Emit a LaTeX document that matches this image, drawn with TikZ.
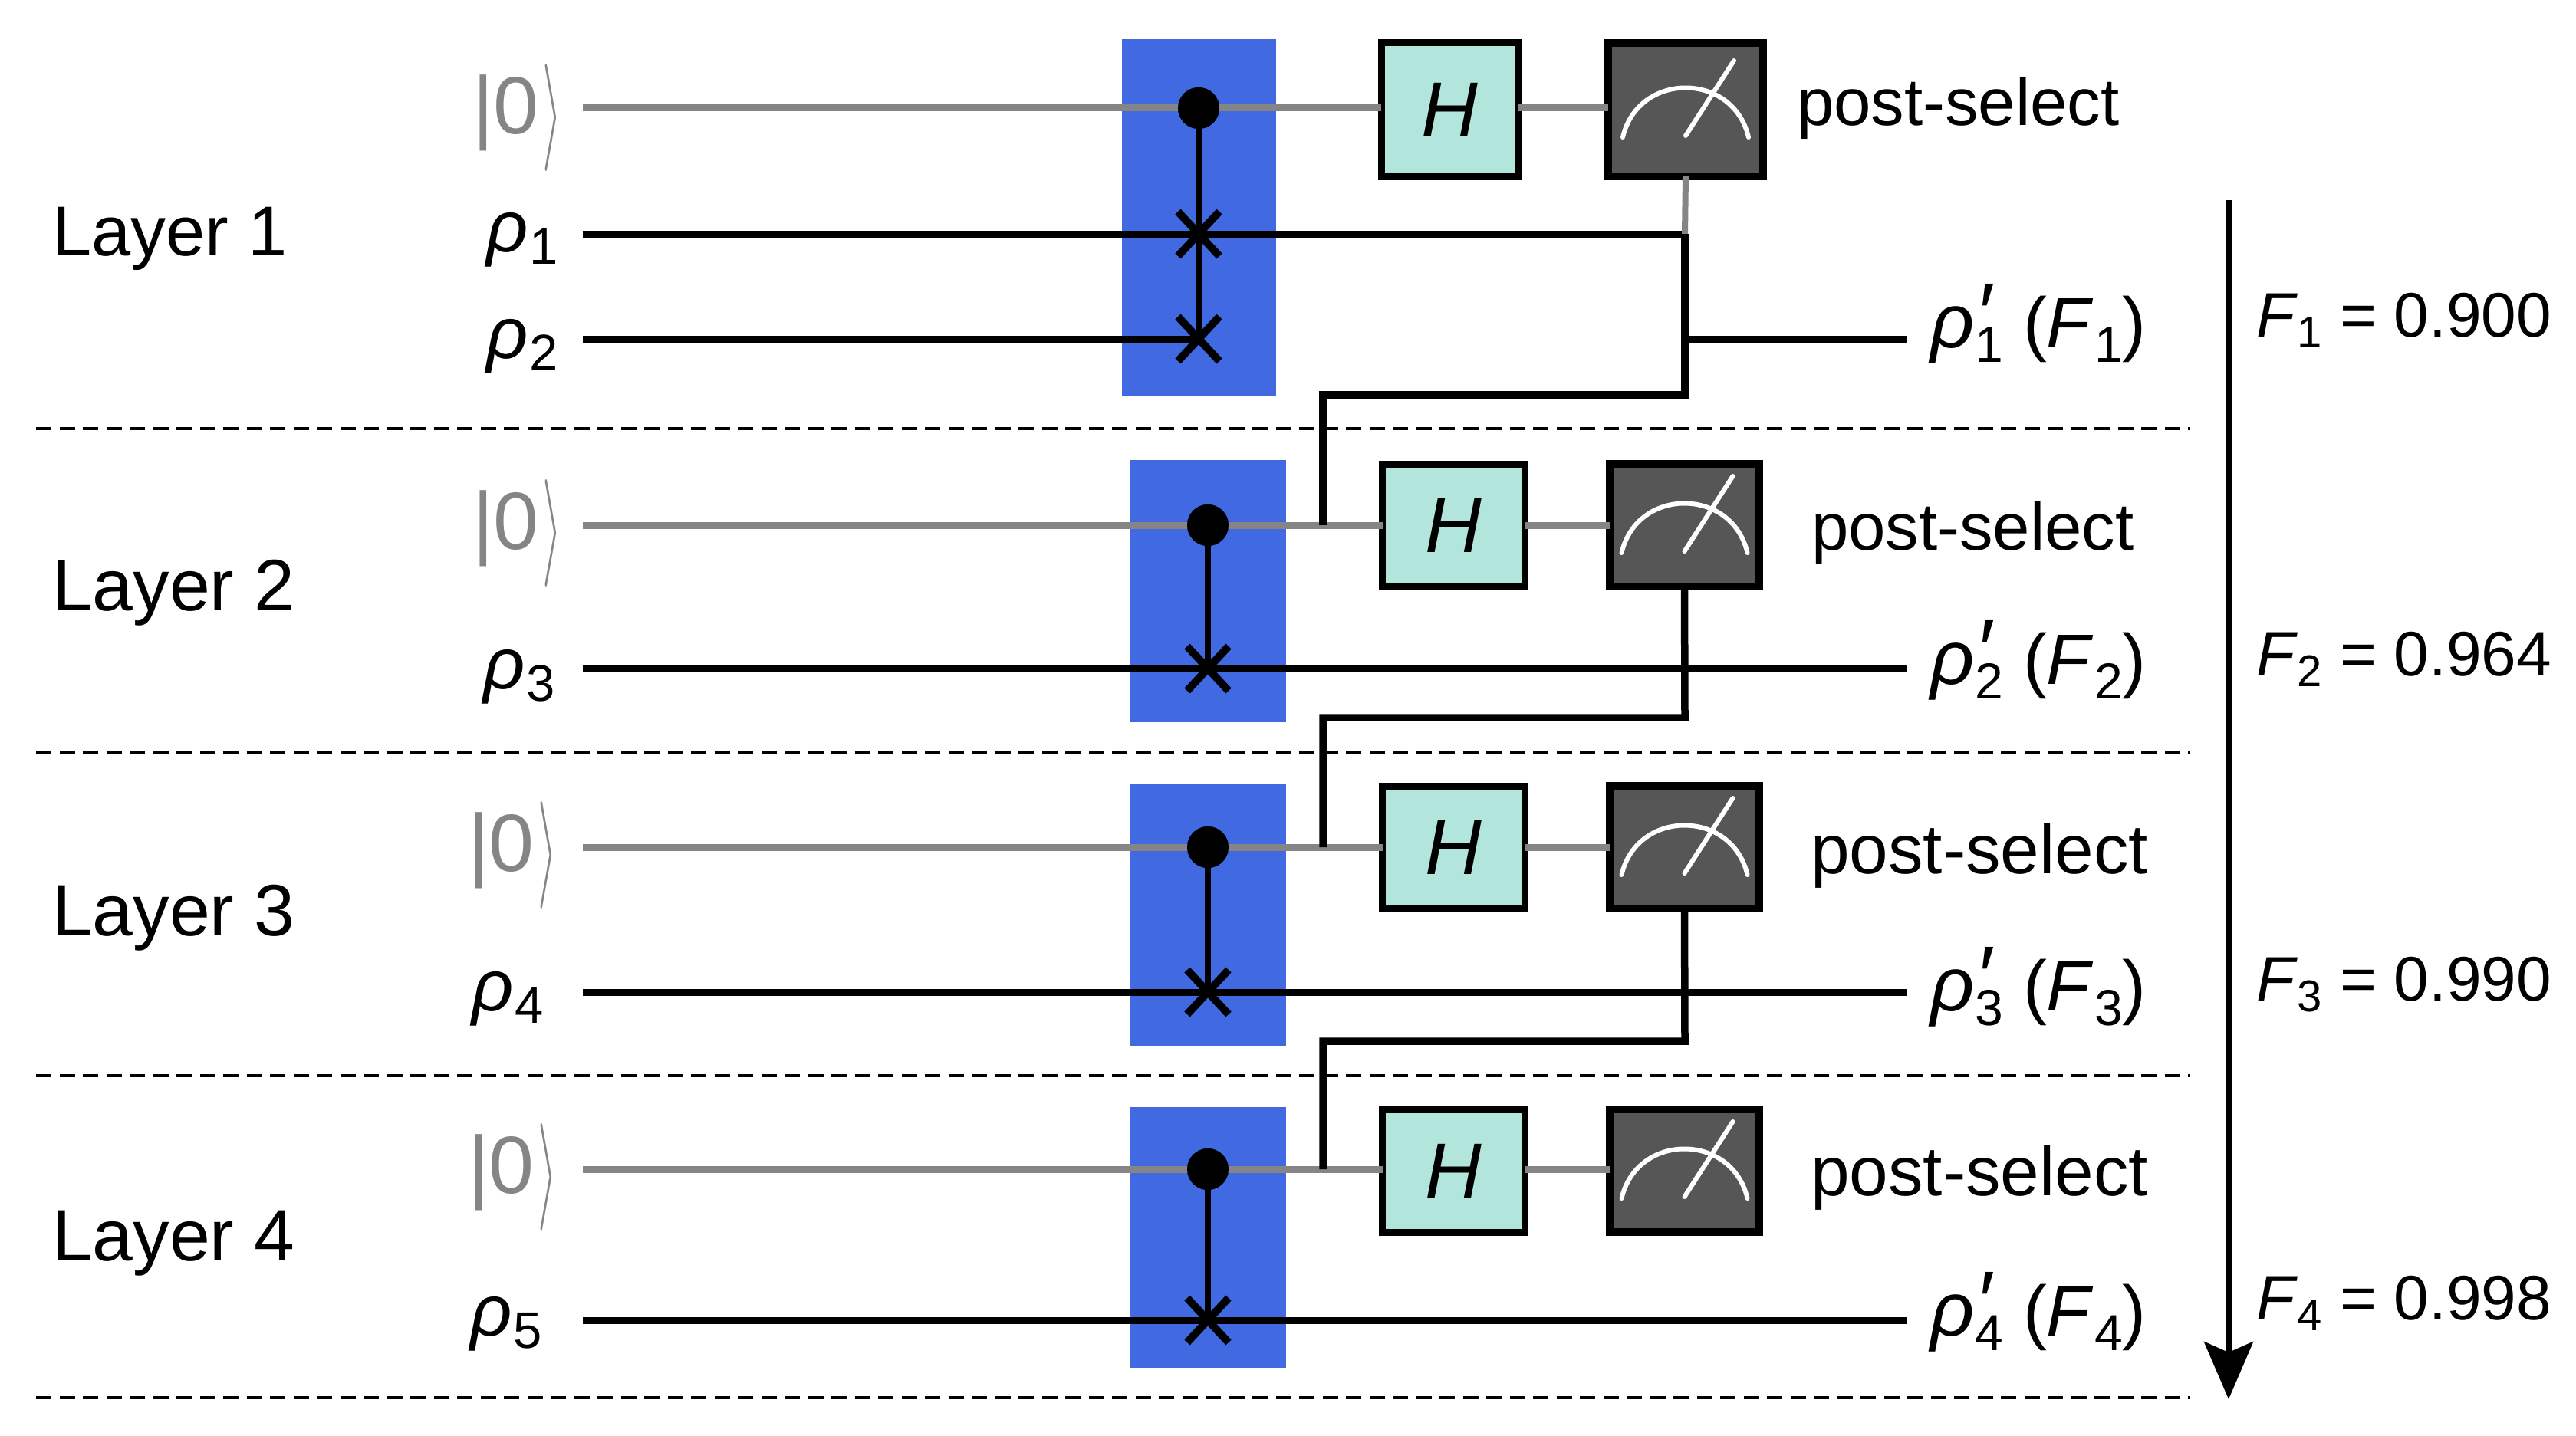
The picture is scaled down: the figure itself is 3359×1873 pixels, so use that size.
\documentclass[tikz,border=0pt]{standalone}
\usepackage{fontspec}
\setmainfont{Liberation Sans}
\usetikzlibrary{arrows.meta,shapes.misc}
\definecolor{gateblue}{HTML}{4169E1}
\definecolor{hfill}{HTML}{B2E6DC}
\definecolor{mfill}{HTML}{565656}
\definecolor{qgray}{HTML}{858585}
\newcommand{\fsz}[1]{\fontsize{#1}{#1}\selectfont}
\newcommand{\rhosub}[1]{\fsz{95}\textit{ρ}\kern2pt\raisebox{-16pt}{\fsz{67}#1}}
\newcommand{\rhoout}[2]{\fsz{100}\textit{ρ}\kern1pt\rlap{\raisebox{6pt}{\fsz{112}\textit{′}}}\raisebox{-19pt}{\fsz{66}#1}\kern26pt{\fsz{93}(\textit{F}\kern1pt\raisebox{-19pt}{\fsz{66}#2})}}
\newcommand{\fidel}[2]{\fsz{82}\textit{F}\raisebox{-14pt}{\fsz{58}#1} = #2}
\newcommand{\ketzero}{\fsz{106}\textcolor{qgray}{|0\kern5pt\raisebox{-14pt}{\scalebox{6.5}[14]{\fsz{10}$\rangle$}}}}
\tikzset{
  x=1pt,y=-1pt,
  blue box/.style={fill=gateblue,draw=none,inner sep=0,outer sep=0},
  hgate/.style={draw=black,line width=9pt,fill=hfill,inner sep=0,outer sep=0,font=\fsz{102}\itshape},
  mgate/.style={draw=black,line width=10pt,fill=mfill,inner sep=0,outer sep=0},
  meterline/.style={draw=white,line width=6pt,line cap=round},
  meter/.pic={\draw[meterline] (-82,36) .. controls (-62,-50) and (62,-50) .. (82,36);
              \draw[meterline] (0,34) -- (63,-64);},
  qwire/.style={draw=qgray,line width=9pt},
  wire/.style={draw=black,line width=9pt},
  feed/.style={draw=black,line width=9.5pt,line join=miter},
  stem/.style={draw=black,line width=8pt},
  dot/.style={circle,fill=black,minimum size=54pt,inner sep=0,outer sep=0},
  xmark/.style={cross out,draw=black,line width=10pt,minimum width=54pt,minimum height=58pt,inner sep=0,outer sep=0},
  divider/.style={draw=black,line width=4pt,dash pattern=on 20pt off 10.5pt},
  lbl/.style={anchor=base west,inner sep=0,outer sep=0,text=black},
  layer/.style={lbl,font=\fsz{92}},
  layerb/.style={lbl,font=\fsz{95}},
}
\begin{document}
\begin{tikzpicture}
\useasboundingbox (0,0) rectangle (3359,1873);
\fill[white] (0,0) rectangle (3359,1873);

% gate backgrounds
\node[blue box,minimum width=201pt,minimum height=466pt] (B1) at (1563.5,284) {};
\node[blue box,minimum width=203pt,minimum height=342pt] (B2) at (1575.5,771) {};
\node[blue box,minimum width=203pt,minimum height=342pt] (B3) at (1575.5,1193) {};
\node[blue box,minimum width=203pt,minimum height=340pt] (B4) at (1575.5,1614) {};

% dividers
\coordinate (d1a) at (47,559);   \coordinate (d1b) at (2856,559);
\coordinate (d2a) at (47,981);   \coordinate (d2b) at (2856,981);
\coordinate (d3a) at (47,1403);  \coordinate (d3b) at (2856,1403);
\coordinate (d4a) at (47,1823);  \coordinate (d4b) at (2856,1823);
\draw[divider] (d1a) -- (d1b);
\draw[divider] (d2a) -- (d2b);
\draw[divider] (d3a) -- (d3b);
\draw[divider] (d4a) -- (d4b);

% H gates and measurements
\node[hgate,minimum width=179pt,minimum height=174pt] (H1) at (1890.5,143) {H};
\node[hgate,minimum width=186pt,minimum height=160pt] (H2) at (1895.5,685) {H};
\node[hgate,minimum width=186pt,minimum height=160pt] (H3) at (1895.5,1105) {H};
\node[hgate,minimum width=186pt,minimum height=160pt] (H4) at (1895.5,1527) {H};
\node[mgate,minimum width=202pt,minimum height=174pt] (M1) at (2198,143) {};
\node[mgate,minimum width=195pt,minimum height=160pt] (M2) at (2196.5,685) {};
\node[mgate,minimum width=195pt,minimum height=160pt] (M3) at (2196.5,1105) {};
\node[mgate,minimum width=195pt,minimum height=160pt] (M4) at (2196.5,1527) {};
\pic at (M1.center) {meter};
\pic at (M2.center) {meter};
\pic at (M3.center) {meter};
\pic at (M4.center) {meter};

% control and swap symbols
\node[dot] (c1) at (1563,141) {};
\node[xmark] (x1) at (1563,305) {};
\node[xmark] (x2) at (1563,442) {};
\node[dot] (c2) at (1575,685) {};
\node[xmark] (x3) at (1575,872) {};
\node[dot] (c3) at (1575,1105) {};
\node[xmark] (x4) at (1575,1294) {};
\node[dot] (c4) at (1575,1525) {};
\node[xmark] (x5) at (1575,1722) {};

% wire ends
\coordinate (q1) at (760,141);  \coordinate (q2) at (760,685);
\coordinate (q3) at (760,1105); \coordinate (q4) at (760,1525);
\coordinate (r1) at (760,305);  \coordinate (r2) at (760,442);
\coordinate (r3) at (760,872);  \coordinate (r4) at (760,1294);
\coordinate (r5) at (760,1722);
\coordinate (e1) at (2486,442); \coordinate (e2) at (2486,872);
\coordinate (e3) at (2486,1294);\coordinate (e4) at (2486,1722);

% ancilla wires
\draw[qwire] (q1) -- (c1.center) -- (c1.center -| H1.west);
\draw[qwire] (c1.center -| H1.east) -- (c1.center -| M1.west);
\draw[qwire] (q2) -- (c2.center) -- (H2);
\draw[qwire] (H2) -- (M2);
\draw[qwire] (q3) -- (c3.center) -- (H3);
\draw[qwire] (H3) -- (M3);
\draw[qwire] (q4) -- (c4.center) -- (c4.center -| H4.west);
\draw[qwire] (c4.center -| H4.east) -- (c4.center -| M4.west);
\node[dot] (c1t) at (c1.center) {};
\node[dot] (c2t) at (c2.center) {};
\node[dot] (c3t) at (c3.center) {};
\node[dot] (c4t) at (c4.center) {};

% gate stems
\draw[stem] (c1.center) -- (x2.center);
\draw[stem] (c2.center) -- (x3.center);
\draw[stem] (c3.center) -- (x4.center);
\draw[stem] (c4.center) -- (x5.center);

% data wires
\coordinate (j1) at (2197,305);
\coordinate (j1a) at (2197,515);
\coordinate (j1b) at (1725,515);
\coordinate (k1) at (1725,685);
\coordinate (s1) at (2197,442);
\draw[wire] (r1) -- (x1.center) -- (j1);
\draw[wire] (r2) -- (x2.center);
\draw[draw=qgray,line width=8pt] (M1.south) -- (j1);
\draw[feed] (j1) -- (j1a) -- (j1b) -- (k1);
\draw[wire] (s1) -- (e1);
\draw[wire] (r3) -- (x3.center) -- (e2);
\draw[wire] (r4) -- (x4.center) -- (e3);
\draw[wire] (r5) -- (x5.center) -- (e4);

\coordinate (j2a) at (2197,936);
\coordinate (j2b) at (1725,936);
\coordinate (k2) at (1725,1105);
\draw[feed] (M2.south) -- (j2a) -- (j2b) -- (k2);
\coordinate (j3a) at (2197,1358);
\coordinate (j3b) at (1725,1358);
\coordinate (k3) at (1725,1525);
\draw[feed] (M3.south) -- (j3a) -- (j3b) -- (k3);

% fidelity arrow
\coordinate (a1) at (2906,261);
\coordinate (a2) at (2906,1825);
\draw[draw=black,line width=7pt,-{Stealth[length=75pt,width=64pt,inset=14pt]}] (a1) -- (a2);

% labels
\node[layer] (L1) at (68,333) {Layer 1};
\node[layerb] (L2) at (68,796) {Layer 2};
\node[layerb] (L3) at (68,1220) {Layer 3};
\node[layerb] (L4) at (68,1644) {Layer 4};

\node[lbl] (k01) at (616,174) {\ketzero};
\node[lbl] (k02) at (616,716) {\ketzero};
\node[lbl] (k03) at (610,1136) {\ketzero};
\node[lbl] (k04) at (610,1556) {\ketzero};

\node[lbl] (t1) at (634,328) {\rhosub{1}};
\node[lbl] (t2) at (634,467) {\rhosub{2}};
\node[lbl] (t3) at (630,898) {\rhosub{3}};
\node[lbl] (t4) at (615,1318) {\rhosub{4}};
\node[lbl] (t5) at (613,1742) {\rhosub{5}};

\node[lbl,font=\fsz{87}] (p1) at (2343,164) {post-select};
\node[lbl,font=\fsz{87}] (p2) at (2362,717) {post-select};
\node[lbl,font=\fsz{91}] (p3) at (2361,1139) {post-select};
\node[lbl,font=\fsz{91}] (p4) at (2361,1559) {post-select};

\node[lbl] (o1) at (2517,453) {\rhoout{1}{1}};
\node[lbl] (o2) at (2517,892) {\rhoout{2}{2}};
\node[lbl] (o3) at (2517,1318) {\rhoout{3}{3}};
\node[lbl] (o4) at (2517,1742) {\rhoout{4}{4}};

\node[lbl] (f1) at (2942,439) {\fidel{1}{0.900}};
\node[lbl] (f2) at (2942,881) {\fidel{2}{0.964}};
\node[lbl] (f3) at (2942,1305) {\fidel{3}{0.990}};
\node[lbl] (f4) at (2942,1721) {\fidel{4}{0.998}};
\end{tikzpicture}
\end{document}
